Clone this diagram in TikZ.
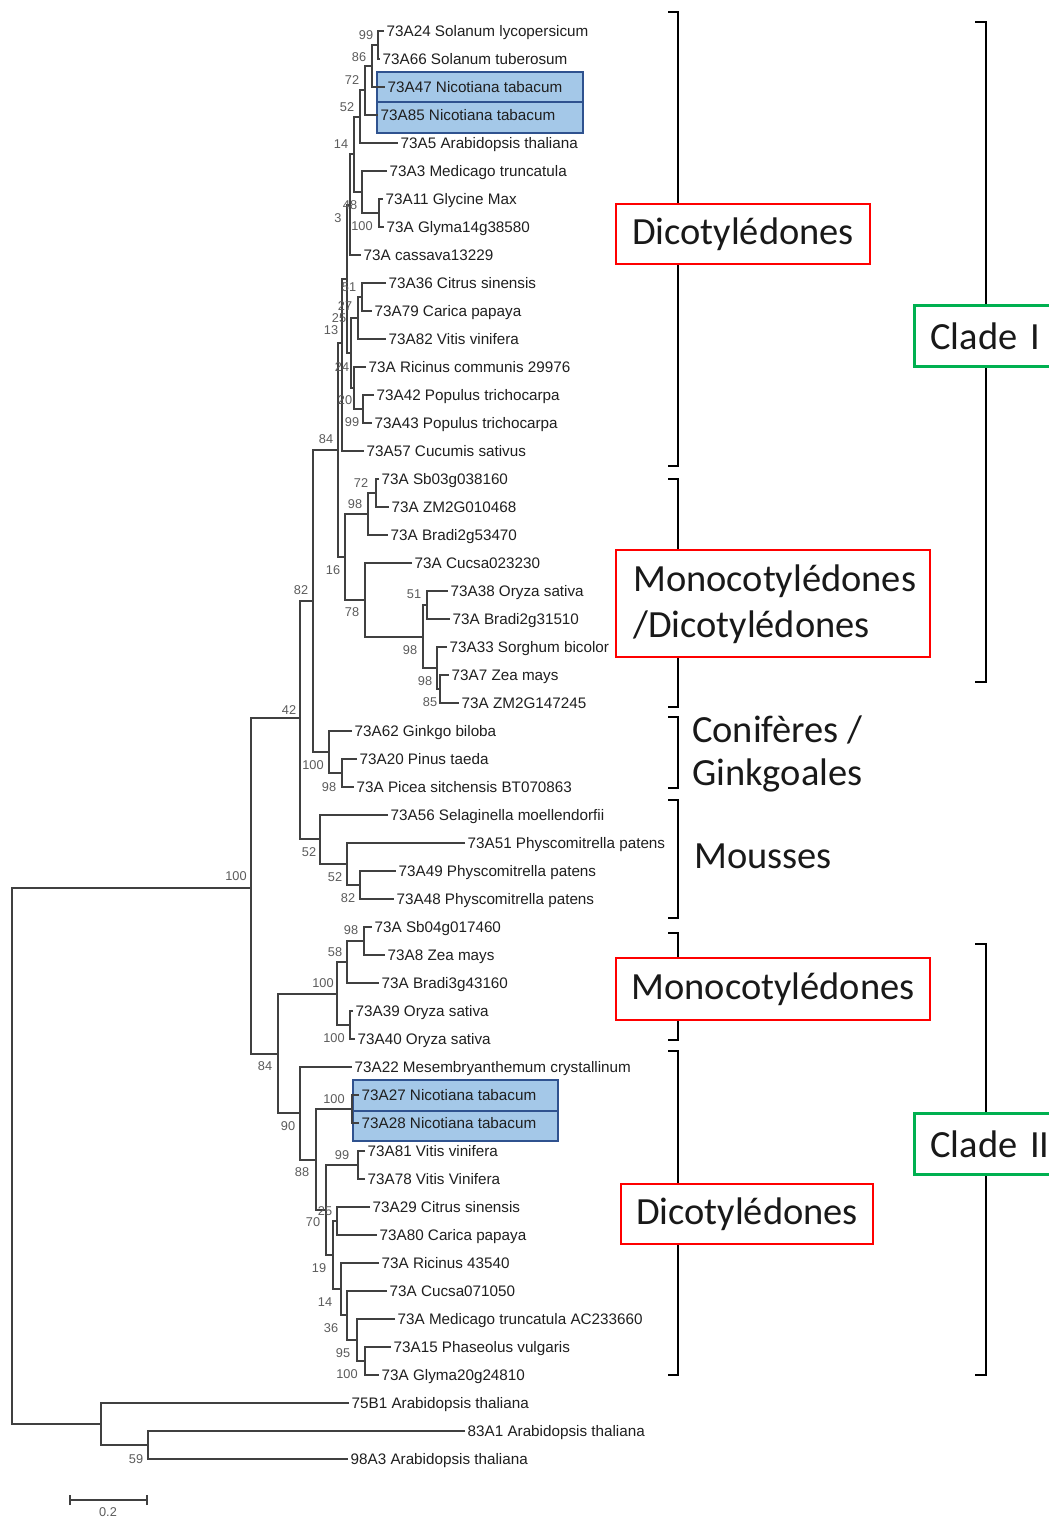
\documentclass[tikz,border=0pt]{standalone}
\usepackage{fontspec}
\setmainfont{Liberation Sans}
\newfontfamily\calfont{Carlito}
\definecolor{boxred}{RGB}{255,0,0}
\definecolor{boxgreen}{RGB}{0,176,80}
\definecolor{tabfill}{RGB}{164,200,232}
\definecolor{tabedge}{RGB}{47,82,143}
\begin{document}
\begin{tikzpicture}[x=1bp,y=-1bp,
  branch/.style={draw=black!75, line width=1.4bp},
  leaf/.style={anchor=west, inner xsep=2.5bp, inner ysep=0pt, text height=11.9bp, text depth=0.9bp,
    font=\fontsize{15.3}{17}\selectfont, text=black!88},
  boot/.style={inner sep=0pt, font=\fontsize{12.8}{14}\selectfont, text=black!64},
  bracket/.style={draw=black, line width=2.4bp},
  grouptext/.style={inner sep=0pt, anchor=west, font=\calfont\fontsize{38.6}{46}\selectfont, text=black!90, align=left},
  redbox/.style={draw=boxred, line width=2.6bp, fill=white, font=\calfont\fontsize{38.6}{46}\selectfont, text=black!90},
  cladebox/.style={draw=boxgreen, line width=2.6bp, fill=white, font=\calfont\fontsize{38.6}{46}\selectfont, text=black!90,
    anchor=west, align=left, text width=130bp, inner xsep=16bp, minimum height=61bp},
  tabbox/.style={draw=tabedge, line width=2.8bp, fill=tabfill}
]
\useasboundingbox (0,0) rectangle (1048,1517);
\fill[white] (0,0) rectangle (1048,1517);

% --- group brackets ---
\draw[bracket] (668,12) -- (678,12) -- (678,466) -- (668,466);
\draw[bracket] (668,479) -- (678,479) -- (678,707) -- (668,707);
\draw[bracket] (668,717) -- (678,717) -- (678,788) -- (668,788);
\draw[bracket] (668,800) -- (678,800) -- (678,918) -- (668,918);
\draw[bracket] (668,933) -- (678,933) -- (678,1040) -- (668,1040);
\draw[bracket] (668,1051) -- (678,1051) -- (678,1375) -- (668,1375);
\draw[bracket] (975,22) -- (986,22) -- (986,682) -- (975,682);
\draw[bracket] (975,944) -- (986,944) -- (986,1375) -- (975,1375);

% --- highlighted tobacco sequences ---
\draw[tabbox] (377,72) rectangle (583,102);
\draw[tabbox] (377,102) rectangle (583,133);
\draw[tabbox] (353,1080) rectangle (558,1111);
\draw[tabbox] (353,1111) rectangle (558,1141);

% --- leaves ---
\node[leaf] (l0)  at (384,31)   {73A24 Solanum lycopersicum};
\node[leaf] (l1)  at (380,59)   {73A66 Solanum tuberosum};
\node[leaf] (l2)  at (385,87)   {73A47 Nicotiana tabacum};
\node[leaf] (l3)  at (378,115)  {73A85 Nicotiana tabacum};
\node[leaf] (l4)  at (398,143)  {73A5 Arabidopsis thaliana};
\node[leaf] (l5)  at (387,171)  {73A3 Medicago truncatula};
\node[leaf] (l6)  at (383,199)  {73A11 Glycine Max};
\node[leaf] (l7)  at (384,227)  {73A Glyma14g38580};
\node[leaf] (l8)  at (361,255)  {73A cassava13229};
\node[leaf] (l9)  at (386,283)  {73A36 Citrus sinensis};
\node[leaf] (l10) at (372,311)  {73A79 Carica papaya};
\node[leaf] (l11) at (386,339)  {73A82 Vitis vinifera};
\node[leaf] (l12) at (366,367)  {73A Ricinus communis 29976};
\node[leaf] (l13) at (374,395)  {73A42 Populus trichocarpa};
\node[leaf] (l14) at (372,423)  {73A43 Populus trichocarpa};
\node[leaf] (l15) at (364,451)  {73A57 Cucumis sativus};
\node[leaf] (l16) at (379,479)  {73A Sb03g038160};
\node[leaf] (l17) at (389,507)  {73A ZM2G010468};
\node[leaf] (l18) at (388,535)  {73A Bradi2g53470};
\node[leaf] (l19) at (412,563)  {73A Cucsa023230};
\node[leaf] (l20) at (448,591)  {73A38 Oryza sativa};
\node[leaf] (l21) at (450,619)  {73A Bradi2g31510};
\node[leaf] (l22) at (447,647)  {73A33 Sorghum bicolor};
\node[leaf] (l23) at (449,675)  {73A7 Zea mays};
\node[leaf] (l24) at (459,703)  {73A ZM2G147245};
\node[leaf] (l25) at (352,731)  {73A62 Ginkgo biloba};
\node[leaf] (l26) at (357,759)  {73A20 Pinus taeda};
\node[leaf] (l27) at (354,787)  {73A Picea sitchensis BT070863};
\node[leaf] (l28) at (388,815)  {73A56 Selaginella moellendorfii};
\node[leaf] (l29) at (465,843)  {73A51 Physcomitrella patens};
\node[leaf] (l30) at (396,871)  {73A49 Physcomitrella patens};
\node[leaf] (l31) at (394,899)  {73A48 Physcomitrella patens};
\node[leaf] (l32) at (372,927)  {73A Sb04g017460};
\node[leaf] (l33) at (385,955)  {73A8 Zea mays};
\node[leaf] (l34) at (379,983)  {73A Bradi3g43160};
\node[leaf] (l35) at (353,1011) {73A39 Oryza sativa};
\node[leaf] (l36) at (355,1039) {73A40 Oryza sativa};
\node[leaf] (l37) at (352,1067) {73A22 Mesembryanthemum crystallinum};
\node[leaf] (l38) at (359,1095) {73A27 Nicotiana tabacum};
\node[leaf] (l39) at (359,1123) {73A28 Nicotiana tabacum};
\node[leaf] (l40) at (365,1151) {73A81 Vitis vinifera};
\node[leaf] (l41) at (365,1179) {73A78 Vitis Vinifera};
\node[leaf] (l42) at (370,1207) {73A29 Citrus sinensis};
\node[leaf] (l43) at (377,1235) {73A80 Carica papaya};
\node[leaf] (l44) at (379,1263) {73A Ricinus 43540};
\node[leaf] (l45) at (387,1291) {73A Cucsa071050};
\node[leaf] (l46) at (395,1319) {73A Medicago truncatula AC233660};
\node[leaf] (l47) at (391,1347) {73A15 Phaseolus vulgaris};
\node[leaf] (l48) at (379,1375) {73A Glyma20g24810};
\node[leaf] (l49) at (349,1403) {75B1 Arabidopsis thaliana};
\node[leaf] (l50) at (465,1431) {83A1 Arabidopsis thaliana};
\node[leaf] (l51) at (348,1459) {98A3 Arabidopsis thaliana};

% --- internal nodes ---
\coordinate (nA) at (378,45);
\coordinate (nB) at (372,66);
\coordinate (nC) at (365,90);
\coordinate (nD) at (360,117);
\coordinate (nG) at (379,213);
\coordinate (nF) at (362,192);
\coordinate (nE) at (354,154);
\coordinate (nJ) at (350,205);
\coordinate (nH) at (362,297);
\coordinate (nI) at (358,318);
\coordinate (nP) at (363,409);
\coordinate (nR) at (354,388);
\coordinate (nK) at (351,353);
\coordinate (nL) at (347,279);
\coordinate (nM) at (342,343);
\coordinate (nQa) at (376,493);
\coordinate (nQb) at (368,514);
\coordinate (nQc) at (427,605);
\coordinate (nQd) at (440,689);
\coordinate (nQe) at (437,668);
\coordinate (nQf) at (423,637);
\coordinate (nQg) at (365,600);
\coordinate (nQh) at (345,557);
\coordinate (nEf) at (338,450);
\coordinate (nCa) at (342,773);
\coordinate (nCb) at (329,752);
\coordinate (nEt) at (313,601);
\coordinate (nMa) at (360,885);
\coordinate (nMb) at (347,864);
\coordinate (nMc) at (320,839);
\coordinate (nFt) at (300,718);
\coordinate (nLa) at (364,941);
\coordinate (nLb) at (347,962);
\coordinate (nLc) at (350,1025);
\coordinate (nLd) at (337,994);
\coordinate (nNa) at (352,1109);
\coordinate (nNb) at (358,1165);
\coordinate (nNc) at (337,1221);
\coordinate (nNd) at (365,1361);
\coordinate (nNe) at (357,1340);
\coordinate (nNf) at (347,1315);
\coordinate (nNg) at (341,1289);
\coordinate (nNh) at (333,1255);
\coordinate (nNi) at (326,1210);
\coordinate (nNj) at (316,1160);
\coordinate (nNk) at (300,1113);
\coordinate (nEb) at (278,1054);
\coordinate (nHd) at (251,888);
\coordinate (nOa) at (148,1445);
\coordinate (nOb) at (101,1424);
\coordinate (nRoot) at (12,1156);

% --- branches ---
\draw[branch] (l0.west) -| (nA) |- (l1.west);
\draw[branch] (nA) -| (nB) |- (l2.west);
\draw[branch] (nB) -| (nC) |- (l3.west);
\draw[branch] (nC) -| (nD) |- (l4.west);
\draw[branch] (l6.west) -| (nG) |- (l7.west);
\draw[branch] (l5.west) -| (nF) |- (nG);
\draw[branch] (nD) -| (nE) |- (nF);
\draw[branch] (nE) -| (nJ) |- (l8.west);
\draw[branch] (l9.west) -| (nH) |- (l10.west);
\draw[branch] (nH) -| (nI) |- (l11.west);
\draw[branch] (l13.west) -| (nP) |- (l14.west);
\draw[branch] (l12.west) -| (nR) |- (nP);
\draw[branch] (nI) -| (nK) |- (nR);
\draw[branch] (nJ) -| (nL) |- (nK);
\draw[branch] (nL) -| (nM) |- (l15.west);
\draw[branch] (l16.west) -| (nQa) |- (l17.west);
\draw[branch] (nQa) -| (nQb) |- (l18.west);
\draw[branch] (l20.west) -| (nQc) |- (l21.west);
\draw[branch] (l23.west) -| (nQd) |- (l24.west);
\draw[branch] (l22.west) -| (nQe) |- (nQd);
\draw[branch] (nQc) -| (nQf) |- (nQe);
\draw[branch] (l19.west) -| (nQg) |- (nQf);
\draw[branch] (nQb) -| (nQh) |- (nQg);
\draw[branch] (nM) -| (nEf) |- (nQh);
\draw[branch] (l26.west) -| (nCa) |- (l27.west);
\draw[branch] (l25.west) -| (nCb) |- (nCa);
\draw[branch] (nEf) -| (nEt) |- (nCb);
\draw[branch] (l30.west) -| (nMa) |- (l31.west);
\draw[branch] (l29.west) -| (nMb) |- (nMa);
\draw[branch] (l28.west) -| (nMc) |- (nMb);
\draw[branch] (nEt) -| (nFt) |- (nMc);
\draw[branch] (l32.west) -| (nLa) |- (l33.west);
\draw[branch] (nLa) -| (nLb) |- (l34.west);
\draw[branch] (l35.west) -| (nLc) |- (l36.west);
\draw[branch] (nLb) -| (nLd) |- (nLc);
\draw[branch] (l38.west) -| (nNa) |- (l39.west);
\draw[branch] (l40.west) -| (nNb) |- (l41.west);
\draw[branch] (l42.west) -| (nNc) |- (l43.west);
\draw[branch] (l47.west) -| (nNd) |- (l48.west);
\draw[branch] (l46.west) -| (nNe) |- (nNd);
\draw[branch] (l45.west) -| (nNf) |- (nNe);
\draw[branch] (l44.west) -| (nNg) |- (nNf);
\draw[branch] (nNc) -| (nNh) |- (nNg);
\draw[branch] (nNb) -| (nNi) |- (nNh);
\draw[branch] (nNa) -| (nNj) |- (nNi);
\draw[branch] (l37.west) -| (nNk) |- (nNj);
\draw[branch] (nLd) -| (nEb) |- (nNk);
\draw[branch] (nFt) -| (nHd) |- (nEb);
\draw[branch] (l50.west) -| (nOa) |- (l51.west);
\draw[branch] (l49.west) -| (nOb) |- (nOa);
\draw[branch] (nHd) -| (nRoot) |- (nOb);

% --- bootstrap values ---
\node[boot] (b1)  at (366,35)   {99};
\node[boot] (b2)  at (359,57)   {86};
\node[boot] (b3)  at (352,80)   {72};
\node[boot] (b4)  at (347,107)  {52};
\node[boot] (b5)  at (341,144)  {14};
\node[boot] (b6)  at (350,205)  {48};
\node[boot] (b7)  at (338,218)  {3};
\node[boot] (b8)  at (362,226)  {100};
\node[boot] (b9)  at (349,287)  {51};
\node[boot] (b10) at (345,306)  {27};
\node[boot] (b11) at (339,318)  {25};
\node[boot] (b12) at (331,330)  {13};
\node[boot] (b13) at (342,367)  {24};
\node[boot] (b14) at (345,400)  {20};
\node[boot] (b15) at (352,422)  {99};
\node[boot] (b16) at (326,439)  {84};
\node[boot] (b17) at (361,483)  {72};
\node[boot] (b18) at (355,504)  {98};
\node[boot] (b19) at (333,570)  {16};
\node[boot] (b20) at (301,590)  {82};
\node[boot] (b21) at (352,612)  {78};
\node[boot] (b22) at (414,594)  {51};
\node[boot] (b23) at (410,650)  {98};
\node[boot] (b24) at (425,681)  {98};
\node[boot] (b25) at (430,702)  {85};
\node[boot] (b26) at (289,710)  {42};
\node[boot] (b27) at (313,765)  {100};
\node[boot] (b28) at (329,787)  {98};
\node[boot] (b29) at (309,852)  {52};
\node[boot] (b30) at (335,877)  {52};
\node[boot] (b31) at (348,898)  {82};
\node[boot] (b32) at (236,876)  {100};
\node[boot] (b33) at (351,930)  {98};
\node[boot] (b34) at (335,952)  {58};
\node[boot] (b35) at (323,983)  {100};
\node[boot] (b36) at (334,1038) {100};
\node[boot] (b37) at (265,1066) {84};
\node[boot] (b38) at (334,1099) {100};
\node[boot] (b39) at (288,1126) {90};
\node[boot] (b40) at (342,1155) {99};
\node[boot] (b41) at (302,1172) {88};
\node[boot] (b42) at (325,1211) {25};
\node[boot] (b43) at (313,1222) {70};
\node[boot] (b44) at (319,1268) {19};
\node[boot] (b45) at (325,1302) {14};
\node[boot] (b46) at (331,1328) {36};
\node[boot] (b47) at (343,1353) {95};
\node[boot] (b48) at (347,1374) {100};
\node[boot] (b49) at (136,1459) {59};

% --- scale bar ---
\coordinate (sL) at (70,1500);
\coordinate (sR) at (147,1500);
\draw[branch] (sL) -- (sR);
\draw[branch] ([yshift=-5bp]sL) -- ([yshift=5bp]sL);
\draw[branch] ([yshift=-5bp]sR) -- ([yshift=5bp]sR);
\node[boot, anchor=north] (sT) at (108,1507) {0.2};

% --- group labels ---
\node[redbox, minimum width=254bp, minimum height=60bp] (g1) at (743,234) {Dicotylédones};
\node[redbox, minimum width=314bp, minimum height=107bp] (g2) at (773,603.5) {};
\node[grouptext] (g2a) at (633,581) {Monocotylédones};
\node[grouptext] (g2b) at (633,627) {/Dicotylédones};
\node[grouptext] (g3a) at (692,730) {Conifères /};
\node[grouptext] (g3b) at (692,775) {Ginkgoales};
\node[grouptext] (g4) at (694,856) {Mousses};
\node[redbox, minimum width=314bp, minimum height=62bp] (g5) at (773,989) {Monocotylédones};
\node[redbox, minimum width=252bp, minimum height=60bp] (g6) at (747,1214) {Dicotylédones};
\node[cladebox] (c1) at (913,336) {Clade I};
\node[cladebox] (c2) at (913,1144) {Clade II};
\end{tikzpicture}
\end{document}
